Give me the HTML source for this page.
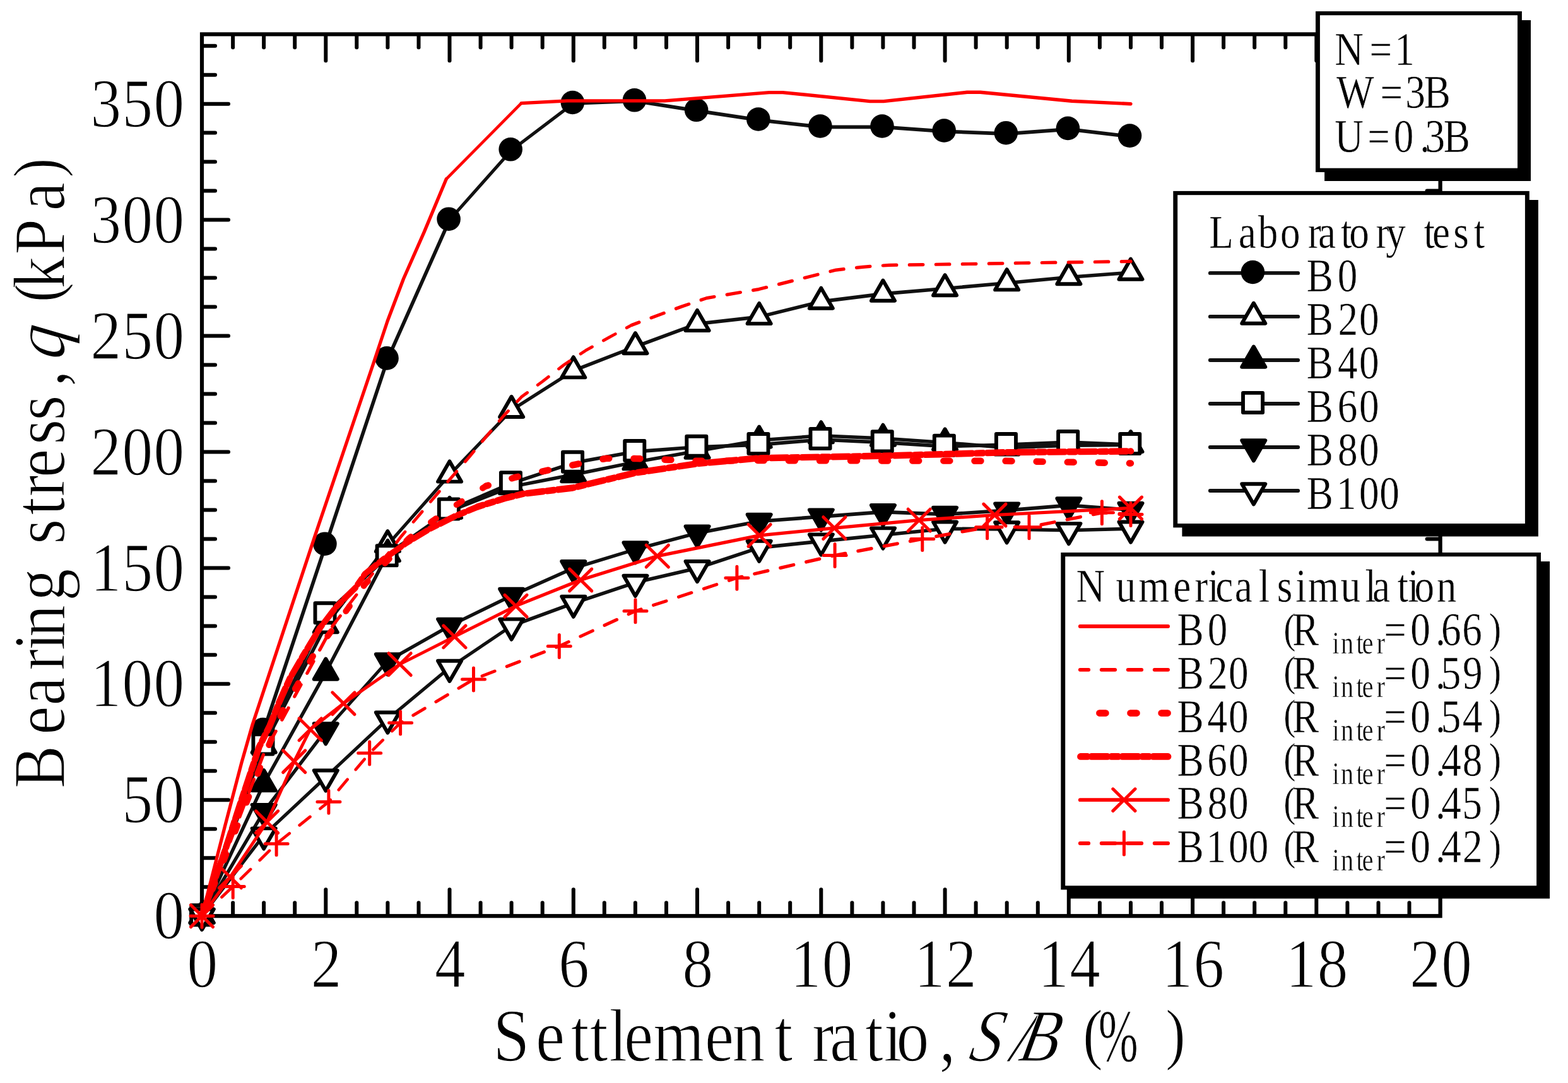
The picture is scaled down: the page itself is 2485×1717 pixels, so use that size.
<!DOCTYPE html>
<html lang="en">
<head>
<meta charset="utf-8">
<title>Bearing stress vs settlement ratio</title>
<style>
html,body{margin:0;padding:0;background:#fff;}
body{width:2485px;height:1717px;overflow:hidden;}
svg{display:block;}
text{font-family:"Liberation Serif","DejaVu Serif",serif;}
</style>
</head>
<body>
<svg width="2485" height="1717" viewBox="0 0 2485 1717">
<rect x="0" y="0" width="2485" height="1717" fill="#fff"/>
<g id="axes">
<rect x="320" y="54.3" width="1962.6" height="1397.9" fill="none" stroke="#000" stroke-width="6.2"/>
<line x1="369.1" y1="1451.2" x2="369.1" y2="1431.2" stroke="#000" stroke-width="6" stroke-linecap="round"/>
<line x1="369.1" y1="55.3" x2="369.1" y2="75.3" stroke="#000" stroke-width="6" stroke-linecap="round"/>
<line x1="418.1" y1="1451.2" x2="418.1" y2="1431.2" stroke="#000" stroke-width="6" stroke-linecap="round"/>
<line x1="418.1" y1="55.3" x2="418.1" y2="75.3" stroke="#000" stroke-width="6" stroke-linecap="round"/>
<line x1="467.2" y1="1451.2" x2="467.2" y2="1431.2" stroke="#000" stroke-width="6" stroke-linecap="round"/>
<line x1="467.2" y1="55.3" x2="467.2" y2="75.3" stroke="#000" stroke-width="6" stroke-linecap="round"/>
<line x1="516.3" y1="1451.2" x2="516.3" y2="1410.2" stroke="#000" stroke-width="6" stroke-linecap="round"/>
<line x1="516.3" y1="55.3" x2="516.3" y2="96.3" stroke="#000" stroke-width="6" stroke-linecap="round"/>
<line x1="565.3" y1="1451.2" x2="565.3" y2="1431.2" stroke="#000" stroke-width="6" stroke-linecap="round"/>
<line x1="565.3" y1="55.3" x2="565.3" y2="75.3" stroke="#000" stroke-width="6" stroke-linecap="round"/>
<line x1="614.4" y1="1451.2" x2="614.4" y2="1431.2" stroke="#000" stroke-width="6" stroke-linecap="round"/>
<line x1="614.4" y1="55.3" x2="614.4" y2="75.3" stroke="#000" stroke-width="6" stroke-linecap="round"/>
<line x1="663.5" y1="1451.2" x2="663.5" y2="1431.2" stroke="#000" stroke-width="6" stroke-linecap="round"/>
<line x1="663.5" y1="55.3" x2="663.5" y2="75.3" stroke="#000" stroke-width="6" stroke-linecap="round"/>
<line x1="712.5" y1="1451.2" x2="712.5" y2="1410.2" stroke="#000" stroke-width="6" stroke-linecap="round"/>
<line x1="712.5" y1="55.3" x2="712.5" y2="96.3" stroke="#000" stroke-width="6" stroke-linecap="round"/>
<line x1="761.6" y1="1451.2" x2="761.6" y2="1431.2" stroke="#000" stroke-width="6" stroke-linecap="round"/>
<line x1="761.6" y1="55.3" x2="761.6" y2="75.3" stroke="#000" stroke-width="6" stroke-linecap="round"/>
<line x1="810.6" y1="1451.2" x2="810.6" y2="1431.2" stroke="#000" stroke-width="6" stroke-linecap="round"/>
<line x1="810.6" y1="55.3" x2="810.6" y2="75.3" stroke="#000" stroke-width="6" stroke-linecap="round"/>
<line x1="859.7" y1="1451.2" x2="859.7" y2="1431.2" stroke="#000" stroke-width="6" stroke-linecap="round"/>
<line x1="859.7" y1="55.3" x2="859.7" y2="75.3" stroke="#000" stroke-width="6" stroke-linecap="round"/>
<line x1="908.8" y1="1451.2" x2="908.8" y2="1410.2" stroke="#000" stroke-width="6" stroke-linecap="round"/>
<line x1="908.8" y1="55.3" x2="908.8" y2="96.3" stroke="#000" stroke-width="6" stroke-linecap="round"/>
<line x1="957.8" y1="1451.2" x2="957.8" y2="1431.2" stroke="#000" stroke-width="6" stroke-linecap="round"/>
<line x1="957.8" y1="55.3" x2="957.8" y2="75.3" stroke="#000" stroke-width="6" stroke-linecap="round"/>
<line x1="1006.9" y1="1451.2" x2="1006.9" y2="1431.2" stroke="#000" stroke-width="6" stroke-linecap="round"/>
<line x1="1006.9" y1="55.3" x2="1006.9" y2="75.3" stroke="#000" stroke-width="6" stroke-linecap="round"/>
<line x1="1056" y1="1451.2" x2="1056" y2="1431.2" stroke="#000" stroke-width="6" stroke-linecap="round"/>
<line x1="1056" y1="55.3" x2="1056" y2="75.3" stroke="#000" stroke-width="6" stroke-linecap="round"/>
<line x1="1105" y1="1451.2" x2="1105" y2="1410.2" stroke="#000" stroke-width="6" stroke-linecap="round"/>
<line x1="1105" y1="55.3" x2="1105" y2="96.3" stroke="#000" stroke-width="6" stroke-linecap="round"/>
<line x1="1154.1" y1="1451.2" x2="1154.1" y2="1431.2" stroke="#000" stroke-width="6" stroke-linecap="round"/>
<line x1="1154.1" y1="55.3" x2="1154.1" y2="75.3" stroke="#000" stroke-width="6" stroke-linecap="round"/>
<line x1="1203.2" y1="1451.2" x2="1203.2" y2="1431.2" stroke="#000" stroke-width="6" stroke-linecap="round"/>
<line x1="1203.2" y1="55.3" x2="1203.2" y2="75.3" stroke="#000" stroke-width="6" stroke-linecap="round"/>
<line x1="1252.2" y1="1451.2" x2="1252.2" y2="1431.2" stroke="#000" stroke-width="6" stroke-linecap="round"/>
<line x1="1252.2" y1="55.3" x2="1252.2" y2="75.3" stroke="#000" stroke-width="6" stroke-linecap="round"/>
<line x1="1301.3" y1="1451.2" x2="1301.3" y2="1410.2" stroke="#000" stroke-width="6" stroke-linecap="round"/>
<line x1="1301.3" y1="55.3" x2="1301.3" y2="96.3" stroke="#000" stroke-width="6" stroke-linecap="round"/>
<line x1="1350.4" y1="1451.2" x2="1350.4" y2="1431.2" stroke="#000" stroke-width="6" stroke-linecap="round"/>
<line x1="1350.4" y1="55.3" x2="1350.4" y2="75.3" stroke="#000" stroke-width="6" stroke-linecap="round"/>
<line x1="1399.4" y1="1451.2" x2="1399.4" y2="1431.2" stroke="#000" stroke-width="6" stroke-linecap="round"/>
<line x1="1399.4" y1="55.3" x2="1399.4" y2="75.3" stroke="#000" stroke-width="6" stroke-linecap="round"/>
<line x1="1448.5" y1="1451.2" x2="1448.5" y2="1431.2" stroke="#000" stroke-width="6" stroke-linecap="round"/>
<line x1="1448.5" y1="55.3" x2="1448.5" y2="75.3" stroke="#000" stroke-width="6" stroke-linecap="round"/>
<line x1="1497.6" y1="1451.2" x2="1497.6" y2="1410.2" stroke="#000" stroke-width="6" stroke-linecap="round"/>
<line x1="1497.6" y1="55.3" x2="1497.6" y2="96.3" stroke="#000" stroke-width="6" stroke-linecap="round"/>
<line x1="1546.6" y1="1451.2" x2="1546.6" y2="1431.2" stroke="#000" stroke-width="6" stroke-linecap="round"/>
<line x1="1546.6" y1="55.3" x2="1546.6" y2="75.3" stroke="#000" stroke-width="6" stroke-linecap="round"/>
<line x1="1595.7" y1="1451.2" x2="1595.7" y2="1431.2" stroke="#000" stroke-width="6" stroke-linecap="round"/>
<line x1="1595.7" y1="55.3" x2="1595.7" y2="75.3" stroke="#000" stroke-width="6" stroke-linecap="round"/>
<line x1="1644.8" y1="1451.2" x2="1644.8" y2="1431.2" stroke="#000" stroke-width="6" stroke-linecap="round"/>
<line x1="1644.8" y1="55.3" x2="1644.8" y2="75.3" stroke="#000" stroke-width="6" stroke-linecap="round"/>
<line x1="1693.8" y1="1451.2" x2="1693.8" y2="1410.2" stroke="#000" stroke-width="6" stroke-linecap="round"/>
<line x1="1693.8" y1="55.3" x2="1693.8" y2="96.3" stroke="#000" stroke-width="6" stroke-linecap="round"/>
<line x1="1742.9" y1="1451.2" x2="1742.9" y2="1431.2" stroke="#000" stroke-width="6" stroke-linecap="round"/>
<line x1="1742.9" y1="55.3" x2="1742.9" y2="75.3" stroke="#000" stroke-width="6" stroke-linecap="round"/>
<line x1="1792" y1="1451.2" x2="1792" y2="1431.2" stroke="#000" stroke-width="6" stroke-linecap="round"/>
<line x1="1792" y1="55.3" x2="1792" y2="75.3" stroke="#000" stroke-width="6" stroke-linecap="round"/>
<line x1="1841" y1="1451.2" x2="1841" y2="1431.2" stroke="#000" stroke-width="6" stroke-linecap="round"/>
<line x1="1841" y1="55.3" x2="1841" y2="75.3" stroke="#000" stroke-width="6" stroke-linecap="round"/>
<line x1="1890.1" y1="1451.2" x2="1890.1" y2="1410.2" stroke="#000" stroke-width="6" stroke-linecap="round"/>
<line x1="1890.1" y1="55.3" x2="1890.1" y2="96.3" stroke="#000" stroke-width="6" stroke-linecap="round"/>
<line x1="1939.1" y1="1451.2" x2="1939.1" y2="1431.2" stroke="#000" stroke-width="6" stroke-linecap="round"/>
<line x1="1939.1" y1="55.3" x2="1939.1" y2="75.3" stroke="#000" stroke-width="6" stroke-linecap="round"/>
<line x1="1988.2" y1="1451.2" x2="1988.2" y2="1431.2" stroke="#000" stroke-width="6" stroke-linecap="round"/>
<line x1="1988.2" y1="55.3" x2="1988.2" y2="75.3" stroke="#000" stroke-width="6" stroke-linecap="round"/>
<line x1="2037.3" y1="1451.2" x2="2037.3" y2="1431.2" stroke="#000" stroke-width="6" stroke-linecap="round"/>
<line x1="2037.3" y1="55.3" x2="2037.3" y2="75.3" stroke="#000" stroke-width="6" stroke-linecap="round"/>
<line x1="2086.3" y1="1451.2" x2="2086.3" y2="1410.2" stroke="#000" stroke-width="6" stroke-linecap="round"/>
<line x1="2086.3" y1="55.3" x2="2086.3" y2="96.3" stroke="#000" stroke-width="6" stroke-linecap="round"/>
<line x1="2135.4" y1="1451.2" x2="2135.4" y2="1431.2" stroke="#000" stroke-width="6" stroke-linecap="round"/>
<line x1="2135.4" y1="55.3" x2="2135.4" y2="75.3" stroke="#000" stroke-width="6" stroke-linecap="round"/>
<line x1="2184.5" y1="1451.2" x2="2184.5" y2="1431.2" stroke="#000" stroke-width="6" stroke-linecap="round"/>
<line x1="2184.5" y1="55.3" x2="2184.5" y2="75.3" stroke="#000" stroke-width="6" stroke-linecap="round"/>
<line x1="2233.5" y1="1451.2" x2="2233.5" y2="1431.2" stroke="#000" stroke-width="6" stroke-linecap="round"/>
<line x1="2233.5" y1="55.3" x2="2233.5" y2="75.3" stroke="#000" stroke-width="6" stroke-linecap="round"/>
<line x1="321" y1="1406.2" x2="341" y2="1406.2" stroke="#000" stroke-width="6" stroke-linecap="round"/>
<line x1="2281.6" y1="1406.2" x2="2261.6" y2="1406.2" stroke="#000" stroke-width="6" stroke-linecap="round"/>
<line x1="321" y1="1360.2" x2="341" y2="1360.2" stroke="#000" stroke-width="6" stroke-linecap="round"/>
<line x1="2281.6" y1="1360.2" x2="2261.6" y2="1360.2" stroke="#000" stroke-width="6" stroke-linecap="round"/>
<line x1="321" y1="1314.2" x2="341" y2="1314.2" stroke="#000" stroke-width="6" stroke-linecap="round"/>
<line x1="2281.6" y1="1314.2" x2="2261.6" y2="1314.2" stroke="#000" stroke-width="6" stroke-linecap="round"/>
<line x1="321" y1="1268.3" x2="362" y2="1268.3" stroke="#000" stroke-width="6" stroke-linecap="round"/>
<line x1="2281.6" y1="1268.3" x2="2240.6" y2="1268.3" stroke="#000" stroke-width="6" stroke-linecap="round"/>
<line x1="321" y1="1222.3" x2="341" y2="1222.3" stroke="#000" stroke-width="6" stroke-linecap="round"/>
<line x1="2281.6" y1="1222.3" x2="2261.6" y2="1222.3" stroke="#000" stroke-width="6" stroke-linecap="round"/>
<line x1="321" y1="1176.3" x2="341" y2="1176.3" stroke="#000" stroke-width="6" stroke-linecap="round"/>
<line x1="2281.6" y1="1176.3" x2="2261.6" y2="1176.3" stroke="#000" stroke-width="6" stroke-linecap="round"/>
<line x1="321" y1="1130.3" x2="341" y2="1130.3" stroke="#000" stroke-width="6" stroke-linecap="round"/>
<line x1="2281.6" y1="1130.3" x2="2261.6" y2="1130.3" stroke="#000" stroke-width="6" stroke-linecap="round"/>
<line x1="321" y1="1084.3" x2="362" y2="1084.3" stroke="#000" stroke-width="6" stroke-linecap="round"/>
<line x1="2281.6" y1="1084.3" x2="2240.6" y2="1084.3" stroke="#000" stroke-width="6" stroke-linecap="round"/>
<line x1="321" y1="1038.3" x2="341" y2="1038.3" stroke="#000" stroke-width="6" stroke-linecap="round"/>
<line x1="2281.6" y1="1038.3" x2="2261.6" y2="1038.3" stroke="#000" stroke-width="6" stroke-linecap="round"/>
<line x1="321" y1="992.4" x2="341" y2="992.4" stroke="#000" stroke-width="6" stroke-linecap="round"/>
<line x1="2281.6" y1="992.4" x2="2261.6" y2="992.4" stroke="#000" stroke-width="6" stroke-linecap="round"/>
<line x1="321" y1="946.4" x2="341" y2="946.4" stroke="#000" stroke-width="6" stroke-linecap="round"/>
<line x1="2281.6" y1="946.4" x2="2261.6" y2="946.4" stroke="#000" stroke-width="6" stroke-linecap="round"/>
<line x1="321" y1="900.4" x2="362" y2="900.4" stroke="#000" stroke-width="6" stroke-linecap="round"/>
<line x1="2281.6" y1="900.4" x2="2240.6" y2="900.4" stroke="#000" stroke-width="6" stroke-linecap="round"/>
<line x1="321" y1="854.4" x2="341" y2="854.4" stroke="#000" stroke-width="6" stroke-linecap="round"/>
<line x1="2281.6" y1="854.4" x2="2261.6" y2="854.4" stroke="#000" stroke-width="6" stroke-linecap="round"/>
<line x1="321" y1="808.4" x2="341" y2="808.4" stroke="#000" stroke-width="6" stroke-linecap="round"/>
<line x1="2281.6" y1="808.4" x2="2261.6" y2="808.4" stroke="#000" stroke-width="6" stroke-linecap="round"/>
<line x1="321" y1="762.4" x2="341" y2="762.4" stroke="#000" stroke-width="6" stroke-linecap="round"/>
<line x1="2281.6" y1="762.4" x2="2261.6" y2="762.4" stroke="#000" stroke-width="6" stroke-linecap="round"/>
<line x1="321" y1="716.5" x2="362" y2="716.5" stroke="#000" stroke-width="6" stroke-linecap="round"/>
<line x1="2281.6" y1="716.5" x2="2240.6" y2="716.5" stroke="#000" stroke-width="6" stroke-linecap="round"/>
<line x1="321" y1="670.5" x2="341" y2="670.5" stroke="#000" stroke-width="6" stroke-linecap="round"/>
<line x1="2281.6" y1="670.5" x2="2261.6" y2="670.5" stroke="#000" stroke-width="6" stroke-linecap="round"/>
<line x1="321" y1="624.5" x2="341" y2="624.5" stroke="#000" stroke-width="6" stroke-linecap="round"/>
<line x1="2281.6" y1="624.5" x2="2261.6" y2="624.5" stroke="#000" stroke-width="6" stroke-linecap="round"/>
<line x1="321" y1="578.5" x2="341" y2="578.5" stroke="#000" stroke-width="6" stroke-linecap="round"/>
<line x1="2281.6" y1="578.5" x2="2261.6" y2="578.5" stroke="#000" stroke-width="6" stroke-linecap="round"/>
<line x1="321" y1="532.5" x2="362" y2="532.5" stroke="#000" stroke-width="6" stroke-linecap="round"/>
<line x1="2281.6" y1="532.5" x2="2240.6" y2="532.5" stroke="#000" stroke-width="6" stroke-linecap="round"/>
<line x1="321" y1="486.5" x2="341" y2="486.5" stroke="#000" stroke-width="6" stroke-linecap="round"/>
<line x1="2281.6" y1="486.5" x2="2261.6" y2="486.5" stroke="#000" stroke-width="6" stroke-linecap="round"/>
<line x1="321" y1="440.6" x2="341" y2="440.6" stroke="#000" stroke-width="6" stroke-linecap="round"/>
<line x1="2281.6" y1="440.6" x2="2261.6" y2="440.6" stroke="#000" stroke-width="6" stroke-linecap="round"/>
<line x1="321" y1="394.6" x2="341" y2="394.6" stroke="#000" stroke-width="6" stroke-linecap="round"/>
<line x1="2281.6" y1="394.6" x2="2261.6" y2="394.6" stroke="#000" stroke-width="6" stroke-linecap="round"/>
<line x1="321" y1="348.6" x2="362" y2="348.6" stroke="#000" stroke-width="6" stroke-linecap="round"/>
<line x1="2281.6" y1="348.6" x2="2240.6" y2="348.6" stroke="#000" stroke-width="6" stroke-linecap="round"/>
<line x1="321" y1="302.6" x2="341" y2="302.6" stroke="#000" stroke-width="6" stroke-linecap="round"/>
<line x1="2281.6" y1="302.6" x2="2261.6" y2="302.6" stroke="#000" stroke-width="6" stroke-linecap="round"/>
<line x1="321" y1="256.6" x2="341" y2="256.6" stroke="#000" stroke-width="6" stroke-linecap="round"/>
<line x1="2281.6" y1="256.6" x2="2261.6" y2="256.6" stroke="#000" stroke-width="6" stroke-linecap="round"/>
<line x1="321" y1="210.6" x2="341" y2="210.6" stroke="#000" stroke-width="6" stroke-linecap="round"/>
<line x1="2281.6" y1="210.6" x2="2261.6" y2="210.6" stroke="#000" stroke-width="6" stroke-linecap="round"/>
<line x1="321" y1="164.7" x2="362" y2="164.7" stroke="#000" stroke-width="6" stroke-linecap="round"/>
<line x1="2281.6" y1="164.7" x2="2240.6" y2="164.7" stroke="#000" stroke-width="6" stroke-linecap="round"/>
<line x1="321" y1="118.7" x2="341" y2="118.7" stroke="#000" stroke-width="6" stroke-linecap="round"/>
<line x1="2281.6" y1="118.7" x2="2261.6" y2="118.7" stroke="#000" stroke-width="6" stroke-linecap="round"/>
<line x1="321" y1="72.7" x2="341" y2="72.7" stroke="#000" stroke-width="6" stroke-linecap="round"/>
<line x1="2281.6" y1="72.7" x2="2261.6" y2="72.7" stroke="#000" stroke-width="6" stroke-linecap="round"/>
</g>
<g id="ticklabels">
<text transform="scale(0.88,1)" x="276.7" y="1488.4" font-size="110.4" fill="#000" stroke="#fff" stroke-width="1.4">0</text>
<text transform="scale(0.88,1)" x="219.9 276.7" y="1304.5" font-size="110.4" fill="#000" stroke="#fff" stroke-width="1.4">50</text>
<text transform="scale(0.88,1)" x="163.1 219.9 276.7" y="1120.5" font-size="110.4" fill="#000" stroke="#fff" stroke-width="1.4">100</text>
<text transform="scale(0.88,1)" x="163.1 219.9 276.7" y="936.6" font-size="110.4" fill="#000" stroke="#fff" stroke-width="1.4">150</text>
<text transform="scale(0.88,1)" x="163.1 219.9 276.7" y="752.7" font-size="110.4" fill="#000" stroke="#fff" stroke-width="1.4">200</text>
<text transform="scale(0.88,1)" x="163.1 219.9 276.7" y="568.7" font-size="110.4" fill="#000" stroke="#fff" stroke-width="1.4">250</text>
<text transform="scale(0.88,1)" x="163.1 219.9 276.7" y="384.8" font-size="110.4" fill="#000" stroke="#fff" stroke-width="1.4">300</text>
<text transform="scale(0.88,1)" x="163.1 219.9 276.7" y="200.9" font-size="110.4" fill="#000" stroke="#fff" stroke-width="1.4">350</text>
<text transform="scale(0.88,1)" x="336.9" y="1564.8" font-size="110.4" fill="#000" stroke="#fff" stroke-width="1.4">0</text>
<text transform="scale(0.88,1)" x="560" y="1564.8" font-size="110.4" fill="#000" stroke="#fff" stroke-width="1.4">2</text>
<text transform="scale(0.88,1)" x="783" y="1564.8" font-size="110.4" fill="#000" stroke="#fff" stroke-width="1.4">4</text>
<text transform="scale(0.88,1)" x="1006" y="1564.8" font-size="110.4" fill="#000" stroke="#fff" stroke-width="1.4">6</text>
<text transform="scale(0.88,1)" x="1229" y="1564.8" font-size="110.4" fill="#000" stroke="#fff" stroke-width="1.4">8</text>
<text transform="scale(0.88,1)" x="1423.6 1480.5" y="1564.8" font-size="110.4" fill="#000" stroke="#fff" stroke-width="1.4">10</text>
<text transform="scale(0.88,1)" x="1646.7 1703.5" y="1564.8" font-size="110.4" fill="#000" stroke="#fff" stroke-width="1.4">12</text>
<text transform="scale(0.88,1)" x="1869.7 1926.5" y="1564.8" font-size="110.4" fill="#000" stroke="#fff" stroke-width="1.4">14</text>
<text transform="scale(0.88,1)" x="2092.7 2149.5" y="1564.8" font-size="110.4" fill="#000" stroke="#fff" stroke-width="1.4">16</text>
<text transform="scale(0.88,1)" x="2315.7 2372.5" y="1564.8" font-size="110.4" fill="#000" stroke="#fff" stroke-width="1.4">18</text>
<text transform="scale(0.88,1)" x="2538.8 2595.6" y="1564.8" font-size="110.4" fill="#000" stroke="#fff" stroke-width="1.4">20</text>
</g>
<g id="series">
<polyline points="320,1452.2 418.1,1157.9 516.3,863.6 614.4,569.3 712.5,348.6" fill="none" stroke="#111" stroke-width="5.7" stroke-linecap="round" stroke-linejoin="round"/>
<polyline points="712.5,348.6 810.6,238.2 908.8,163.9" fill="none" stroke="#111" stroke-width="5.1" stroke-linecap="round" stroke-linejoin="round"/>
<polyline points="908.8,163.9 1006.9,160.2 1105,175.7 1203.2,190.4 1301.3,201.4 1399.4,201.4 1497.6,208.4 1595.7,212.1 1693.8,204.8 1792,216.5" fill="none" stroke="#111" stroke-width="5.8" stroke-linecap="round" stroke-linejoin="round"/>
<circle cx="318.6" cy="1450.8" r="18.8" fill="#000"/>
<circle cx="416.7" cy="1156.5" r="18.8" fill="#000"/>
<circle cx="514.9" cy="862.2" r="18.8" fill="#000"/>
<circle cx="613" cy="567.9" r="18.8" fill="#000"/>
<circle cx="711.1" cy="347.2" r="18.8" fill="#000"/>
<circle cx="809.2" cy="236.8" r="18.8" fill="#000"/>
<circle cx="907.4" cy="162.5" r="18.8" fill="#000"/>
<circle cx="1005.5" cy="158.8" r="18.8" fill="#000"/>
<circle cx="1103.6" cy="174.3" r="18.8" fill="#000"/>
<circle cx="1201.8" cy="189" r="18.8" fill="#000"/>
<circle cx="1299.9" cy="200" r="18.8" fill="#000"/>
<circle cx="1398" cy="200" r="18.8" fill="#000"/>
<circle cx="1496.2" cy="207" r="18.8" fill="#000"/>
<circle cx="1594.3" cy="210.7" r="18.8" fill="#000"/>
<circle cx="1692.4" cy="203.4" r="18.8" fill="#000"/>
<circle cx="1790.5" cy="215.1" r="18.8" fill="#000"/>
<polyline points="320,1452.2 418.1,1182.2 516.3,991.6" fill="none" stroke="#111" stroke-width="5.6" stroke-linecap="round" stroke-linejoin="round"/>
<polyline points="516.3,991.6 614.4,863.6 712.5,752.9 810.6,650.2 908.8,587.7" fill="none" stroke="#111" stroke-width="5.2" stroke-linecap="round" stroke-linejoin="round"/>
<polyline points="908.8,587.7 1006.9,549.5 1105,513.4 1203.2,502.4 1301.3,478.1 1399.4,465.9 1497.6,457.5 1595.7,448.7 1693.8,439.5 1792,432.1" fill="none" stroke="#111" stroke-width="5.6" stroke-linecap="round" stroke-linejoin="round"/>
<polygon points="320,1430.7 338.6,1462.9 301.4,1462.9" fill="#fff" stroke="#000" stroke-width="5.9" stroke-linejoin="round"/>
<polygon points="418.1,1160.7 436.7,1192.9 399.6,1192.9" fill="#fff" stroke="#000" stroke-width="5.9" stroke-linejoin="round"/>
<polygon points="516.3,970.2 534.8,1002.4 497.7,1002.4" fill="#fff" stroke="#000" stroke-width="5.9" stroke-linejoin="round"/>
<polygon points="614.4,842.1 632.9,874.3 595.8,874.3" fill="#fff" stroke="#000" stroke-width="5.9" stroke-linejoin="round"/>
<polygon points="712.5,731.4 731.1,763.6 694,763.6" fill="#fff" stroke="#000" stroke-width="5.9" stroke-linejoin="round"/>
<polygon points="810.6,628.8 829.2,661 792.1,661" fill="#fff" stroke="#000" stroke-width="5.9" stroke-linejoin="round"/>
<polygon points="908.8,566.2 927.3,598.4 890.2,598.4" fill="#fff" stroke="#000" stroke-width="5.9" stroke-linejoin="round"/>
<polygon points="1006.9,528 1025.5,560.2 988.4,560.2" fill="#fff" stroke="#000" stroke-width="5.9" stroke-linejoin="round"/>
<polygon points="1105,491.9 1123.6,524.1 1086.5,524.1" fill="#fff" stroke="#000" stroke-width="5.9" stroke-linejoin="round"/>
<polygon points="1203.2,480.9 1221.7,513.1 1184.6,513.1" fill="#fff" stroke="#000" stroke-width="5.9" stroke-linejoin="round"/>
<polygon points="1301.3,456.6 1319.8,488.8 1282.8,488.8" fill="#fff" stroke="#000" stroke-width="5.9" stroke-linejoin="round"/>
<polygon points="1399.4,444.5 1418,476.7 1380.9,476.7" fill="#fff" stroke="#000" stroke-width="5.9" stroke-linejoin="round"/>
<polygon points="1497.6,436 1516.1,468.2 1479,468.2" fill="#fff" stroke="#000" stroke-width="5.9" stroke-linejoin="round"/>
<polygon points="1595.7,427.2 1614.2,459.4 1577.1,459.4" fill="#fff" stroke="#000" stroke-width="5.9" stroke-linejoin="round"/>
<polygon points="1693.8,418 1712.4,450.2 1675.3,450.2" fill="#fff" stroke="#000" stroke-width="5.9" stroke-linejoin="round"/>
<polygon points="1792,410.6 1810.5,442.8 1773.4,442.8" fill="#fff" stroke="#000" stroke-width="5.9" stroke-linejoin="round"/>
<polyline points="320,1452.2 418.1,1242.5 516.3,1065.9 614.4,878.3 712.5,810.3 810.6,771.6 908.8,752.5 1006.9,732.6 1105,715 1203.2,698.1 1301.3,690.7 1399.4,695.1 1497.6,701.7 1595.7,709.8 1693.8,706.2 1792,705.4" fill="none" stroke="#111" stroke-width="5.5" stroke-linecap="round" stroke-linejoin="round"/>
<polygon points="320,1430.7 338.6,1462.9 301.4,1462.9" fill="#000" stroke="#000" stroke-width="5.9" stroke-linejoin="round"/>
<polygon points="418.1,1221 436.7,1253.2 399.6,1253.2" fill="#000" stroke="#000" stroke-width="5.9" stroke-linejoin="round"/>
<polygon points="516.3,1044.5 534.8,1076.7 497.7,1076.7" fill="#000" stroke="#000" stroke-width="5.9" stroke-linejoin="round"/>
<polygon points="614.4,856.9 632.9,889.1 595.8,889.1" fill="#000" stroke="#000" stroke-width="5.9" stroke-linejoin="round"/>
<polygon points="712.5,788.8 731.1,821 694,821" fill="#000" stroke="#000" stroke-width="5.9" stroke-linejoin="round"/>
<polygon points="810.6,750.2 829.2,782.4 792.1,782.4" fill="#000" stroke="#000" stroke-width="5.9" stroke-linejoin="round"/>
<polygon points="908.8,731 927.3,763.2 890.2,763.2" fill="#000" stroke="#000" stroke-width="5.9" stroke-linejoin="round"/>
<polygon points="1006.9,711.2 1025.5,743.4 988.4,743.4" fill="#000" stroke="#000" stroke-width="5.9" stroke-linejoin="round"/>
<polygon points="1105,693.5 1123.6,725.7 1086.5,725.7" fill="#000" stroke="#000" stroke-width="5.9" stroke-linejoin="round"/>
<polygon points="1203.2,676.6 1221.7,708.8 1184.6,708.8" fill="#000" stroke="#000" stroke-width="5.9" stroke-linejoin="round"/>
<polygon points="1301.3,669.2 1319.8,701.4 1282.8,701.4" fill="#000" stroke="#000" stroke-width="5.9" stroke-linejoin="round"/>
<polygon points="1399.4,673.7 1418,705.9 1380.9,705.9" fill="#000" stroke="#000" stroke-width="5.9" stroke-linejoin="round"/>
<polygon points="1497.6,680.3 1516.1,712.5 1479,712.5" fill="#000" stroke="#000" stroke-width="5.9" stroke-linejoin="round"/>
<polygon points="1595.7,688.4 1614.2,720.6 1577.1,720.6" fill="#000" stroke="#000" stroke-width="5.9" stroke-linejoin="round"/>
<polygon points="1693.8,684.7 1712.4,716.9 1675.3,716.9" fill="#000" stroke="#000" stroke-width="5.9" stroke-linejoin="round"/>
<polygon points="1792,684 1810.5,716.2 1773.4,716.2" fill="#000" stroke="#000" stroke-width="5.9" stroke-linejoin="round"/>
<polyline points="320,1452.2 418.1,1181.4 516.3,973.2" fill="none" stroke="#111" stroke-width="5.6" stroke-linecap="round" stroke-linejoin="round"/>
<polyline points="516.3,973.2 614.4,882.4 712.5,808.4" fill="none" stroke="#111" stroke-width="5" stroke-linecap="round" stroke-linejoin="round"/>
<polyline points="712.5,808.4 810.6,766.1 908.8,733.8 1006.9,716.1 1105,708.7 1203.2,705.1 1301.3,697 1399.4,701.4 1497.6,707.6 1595.7,705.1 1693.8,701 1792,705.1" fill="none" stroke="#111" stroke-width="5.6" stroke-linecap="round" stroke-linejoin="round"/>
<rect x="303.2" y="1435.2" width="31.1" height="31.1" fill="#fff" stroke="#000" stroke-width="5.9" stroke-linejoin="round"/>
<rect x="401.4" y="1164.4" width="31.1" height="31.1" fill="#fff" stroke="#000" stroke-width="5.9" stroke-linejoin="round"/>
<rect x="499.5" y="956.2" width="31.1" height="31.1" fill="#fff" stroke="#000" stroke-width="5.9" stroke-linejoin="round"/>
<rect x="597.6" y="865.3" width="31.1" height="31.1" fill="#fff" stroke="#000" stroke-width="5.9" stroke-linejoin="round"/>
<rect x="695.8" y="791.4" width="31.1" height="31.1" fill="#fff" stroke="#000" stroke-width="5.9" stroke-linejoin="round"/>
<rect x="793.9" y="749.1" width="31.1" height="31.1" fill="#fff" stroke="#000" stroke-width="5.9" stroke-linejoin="round"/>
<rect x="892" y="716.7" width="31.1" height="31.1" fill="#fff" stroke="#000" stroke-width="5.9" stroke-linejoin="round"/>
<rect x="990.2" y="699" width="31.1" height="31.1" fill="#fff" stroke="#000" stroke-width="5.9" stroke-linejoin="round"/>
<rect x="1088.3" y="691.7" width="31.1" height="31.1" fill="#fff" stroke="#000" stroke-width="5.9" stroke-linejoin="round"/>
<rect x="1186.4" y="688" width="31.1" height="31.1" fill="#fff" stroke="#000" stroke-width="5.9" stroke-linejoin="round"/>
<rect x="1284.5" y="679.9" width="31.1" height="31.1" fill="#fff" stroke="#000" stroke-width="5.9" stroke-linejoin="round"/>
<rect x="1382.7" y="684.3" width="31.1" height="31.1" fill="#fff" stroke="#000" stroke-width="5.9" stroke-linejoin="round"/>
<rect x="1480.8" y="690.6" width="31.1" height="31.1" fill="#fff" stroke="#000" stroke-width="5.9" stroke-linejoin="round"/>
<rect x="1578.9" y="688" width="31.1" height="31.1" fill="#fff" stroke="#000" stroke-width="5.9" stroke-linejoin="round"/>
<rect x="1677.1" y="684" width="31.1" height="31.1" fill="#fff" stroke="#000" stroke-width="5.9" stroke-linejoin="round"/>
<rect x="1775.2" y="688" width="31.1" height="31.1" fill="#fff" stroke="#000" stroke-width="5.9" stroke-linejoin="round"/>
<polyline points="320,1452.2 418.1,1286.7 516.3,1157.9" fill="none" stroke="#111" stroke-width="5.4" stroke-linecap="round" stroke-linejoin="round"/>
<polyline points="516.3,1157.9 614.4,1047.9" fill="none" stroke="#111" stroke-width="5.1" stroke-linecap="round" stroke-linejoin="round"/>
<polyline points="614.4,1047.9 712.5,992.4 810.6,944.5 908.8,900.8 1006.9,871 1105,845.2" fill="none" stroke="#111" stroke-width="5.4" stroke-linecap="round" stroke-linejoin="round"/>
<polyline points="1105,845.2 1203.2,826.5 1301.3,819.1 1399.4,811.7 1497.6,815.4 1595.7,809.2 1693.8,801.1 1792,808.4" fill="none" stroke="#111" stroke-width="5.7" stroke-linecap="round" stroke-linejoin="round"/>
<polygon points="320,1473.7 338.6,1441.5 301.4,1441.5" fill="#000" stroke="#000" stroke-width="5.9" stroke-linejoin="round"/>
<polygon points="418.1,1308.1 436.7,1275.9 399.6,1275.9" fill="#000" stroke="#000" stroke-width="5.9" stroke-linejoin="round"/>
<polygon points="516.3,1179.4 534.8,1147.2 497.7,1147.2" fill="#000" stroke="#000" stroke-width="5.9" stroke-linejoin="round"/>
<polygon points="614.4,1069.4 632.9,1037.2 595.8,1037.2" fill="#000" stroke="#000" stroke-width="5.9" stroke-linejoin="round"/>
<polygon points="712.5,1013.8 731.1,981.6 694,981.6" fill="#000" stroke="#000" stroke-width="5.9" stroke-linejoin="round"/>
<polygon points="810.6,966 829.2,933.8 792.1,933.8" fill="#000" stroke="#000" stroke-width="5.9" stroke-linejoin="round"/>
<polygon points="908.8,922.2 927.3,890 890.2,890" fill="#000" stroke="#000" stroke-width="5.9" stroke-linejoin="round"/>
<polygon points="1006.9,892.4 1025.5,860.2 988.4,860.2" fill="#000" stroke="#000" stroke-width="5.9" stroke-linejoin="round"/>
<polygon points="1105,866.7 1123.6,834.5 1086.5,834.5" fill="#000" stroke="#000" stroke-width="5.9" stroke-linejoin="round"/>
<polygon points="1203.2,847.9 1221.7,815.7 1184.6,815.7" fill="#000" stroke="#000" stroke-width="5.9" stroke-linejoin="round"/>
<polygon points="1301.3,840.6 1319.8,808.4 1282.8,808.4" fill="#000" stroke="#000" stroke-width="5.9" stroke-linejoin="round"/>
<polygon points="1399.4,833.2 1418,801 1380.9,801" fill="#000" stroke="#000" stroke-width="5.9" stroke-linejoin="round"/>
<polygon points="1497.6,836.9 1516.1,804.7 1479,804.7" fill="#000" stroke="#000" stroke-width="5.9" stroke-linejoin="round"/>
<polygon points="1595.7,830.6 1614.2,798.4 1577.1,798.4" fill="#000" stroke="#000" stroke-width="5.9" stroke-linejoin="round"/>
<polygon points="1693.8,822.5 1712.4,790.3 1675.3,790.3" fill="#000" stroke="#000" stroke-width="5.9" stroke-linejoin="round"/>
<polygon points="1792,829.9 1810.5,797.7 1773.4,797.7" fill="#000" stroke="#000" stroke-width="5.9" stroke-linejoin="round"/>
<polyline points="320,1452.2 418.1,1324.2 516.3,1232.2 614.4,1140.2 712.5,1058.6 810.6,992.4" fill="none" stroke="#111" stroke-width="5.2" stroke-linecap="round" stroke-linejoin="round"/>
<polyline points="810.6,992.4 908.8,956.3 1006.9,923.6 1105,900.8 1203.2,868.4 1301.3,858.1 1399.4,848.2 1497.6,838.2 1595.7,839 1693.8,840.8 1792,838.2" fill="none" stroke="#111" stroke-width="5.6" stroke-linecap="round" stroke-linejoin="round"/>
<polygon points="320,1473.7 338.6,1441.5 301.4,1441.5" fill="#fff" stroke="#000" stroke-width="5.9" stroke-linejoin="round"/>
<polygon points="418.1,1345.6 436.7,1313.4 399.6,1313.4" fill="#fff" stroke="#000" stroke-width="5.9" stroke-linejoin="round"/>
<polygon points="516.3,1253.7 534.8,1221.5 497.7,1221.5" fill="#fff" stroke="#000" stroke-width="5.9" stroke-linejoin="round"/>
<polygon points="614.4,1161.7 632.9,1129.5 595.8,1129.5" fill="#fff" stroke="#000" stroke-width="5.9" stroke-linejoin="round"/>
<polygon points="712.5,1080 731.1,1047.8 694,1047.8" fill="#fff" stroke="#000" stroke-width="5.9" stroke-linejoin="round"/>
<polygon points="810.6,1013.8 829.2,981.6 792.1,981.6" fill="#fff" stroke="#000" stroke-width="5.9" stroke-linejoin="round"/>
<polygon points="908.8,977.8 927.3,945.6 890.2,945.6" fill="#fff" stroke="#000" stroke-width="5.9" stroke-linejoin="round"/>
<polygon points="1006.9,945 1025.5,912.8 988.4,912.8" fill="#fff" stroke="#000" stroke-width="5.9" stroke-linejoin="round"/>
<polygon points="1105,922.2 1123.6,890 1086.5,890" fill="#fff" stroke="#000" stroke-width="5.9" stroke-linejoin="round"/>
<polygon points="1203.2,889.9 1221.7,857.7 1184.6,857.7" fill="#fff" stroke="#000" stroke-width="5.9" stroke-linejoin="round"/>
<polygon points="1301.3,879.6 1319.8,847.4 1282.8,847.4" fill="#fff" stroke="#000" stroke-width="5.9" stroke-linejoin="round"/>
<polygon points="1399.4,869.6 1418,837.4 1380.9,837.4" fill="#fff" stroke="#000" stroke-width="5.9" stroke-linejoin="round"/>
<polygon points="1497.6,859.7 1516.1,827.5 1479,827.5" fill="#fff" stroke="#000" stroke-width="5.9" stroke-linejoin="round"/>
<polygon points="1595.7,860.4 1614.2,828.2 1577.1,828.2" fill="#fff" stroke="#000" stroke-width="5.9" stroke-linejoin="round"/>
<polygon points="1693.8,862.3 1712.4,830.1 1675.3,830.1" fill="#fff" stroke="#000" stroke-width="5.9" stroke-linejoin="round"/>
<polygon points="1792,859.7 1810.5,827.5 1773.4,827.5" fill="#fff" stroke="#000" stroke-width="5.9" stroke-linejoin="round"/>
<polyline points="320,1452.2 356.3,1310.6 382.8,1209.4 399.7,1150.2 497.9,853.3 590.5,580 614.1,509 639.6,441.7 672.1,368.1 707.3,283.8" fill="none" stroke="#f00" stroke-width="5.3" stroke-linecap="round" stroke-linejoin="round"/>
<polyline points="707.3,283.8 826.2,163.6" fill="none" stroke="#f00" stroke-width="4.6" stroke-linecap="round" stroke-linejoin="round"/>
<polyline points="826.2,163.6 899,159.9 1053.6,159.9 1218.9,146.6 1240.5,146.6 1378.8,160.6 1400.4,160.6 1532.7,146.3 1553.6,146.3 1698.7,160.2 1792,164.7" fill="none" stroke="#f00" stroke-width="5.4" stroke-linecap="round" stroke-linejoin="round"/>
<polyline points="320,1452.2 418.1,1194.7 527.4,992" fill="none" stroke="#f00" stroke-width="5.2" stroke-linecap="round" stroke-linejoin="round" stroke-dasharray="21.5 20.5" stroke-dashoffset="41.8"/>
<polyline points="527.4,992 635.9,850.4 661.3,820.2 688.5,788.2 743.9,724.2 770.3,692.6 797.3,660.2 826.4,629.3 860,604.6 893.7,578.5 928.2,555.7 964.9,535.1 1001.6,515.2" fill="none" stroke="#f00" stroke-width="4.8" stroke-linecap="round" stroke-linejoin="round" stroke-dasharray="21.5 20.5" stroke-dashoffset="1.7"/>
<polyline points="1001.6,515.2 1079.7,486.2 1119.8,472.6 1202.6,458.6 1283.2,438.4 1324.9,428.1 1367,423.3 1409.2,420.3 1534.8,418.5 1618.3,417 1792,414.4" fill="none" stroke="#f00" stroke-width="5.2" stroke-linecap="round" stroke-linejoin="round" stroke-dasharray="21.5 20.5" stroke-dashoffset="9.5"/>
<polyline points="320,1452.2 418.1,1202 448.6,1125.5" fill="none" stroke="#f00" stroke-width="10.2" stroke-linecap="round" stroke-linejoin="round" stroke-dasharray="10 39.1" stroke-dashoffset="3.2"/>
<polyline points="448.6,1125.5 471.1,1086.2 495.5,1040.9" fill="none" stroke="#f00" stroke-width="9.9" stroke-linecap="round" stroke-linejoin="round" stroke-dasharray="10 39.1" stroke-dashoffset="10.5"/>
<polyline points="495.5,1040.9 551.9,964 578.2,926.5 648.1,853.3 685.7,825.7 728.9,796.7 770.3,770.5" fill="none" stroke="#f00" stroke-width="9.6" stroke-linecap="round" stroke-linejoin="round" stroke-dasharray="10 39.1" stroke-dashoffset="9.1"/>
<polyline points="770.3,770.5 817.3,756.6 864.5,746.3 912.7,736.3 960.5,726.8 1009.1,727.1 1059.1,729 1108.2,730.8 1204.2,730.1 1592.7,730.8 1792,734.5" fill="none" stroke="#f00" stroke-width="10.4" stroke-linecap="round" stroke-linejoin="round" stroke-dasharray="10 39.1" stroke-dashoffset="6.3"/>
<polyline points="320,1452.2 356.4,1349.2 380.8,1274.2 410.9,1183.7 427.7,1150.2 442.9,1112.3 459.8,1074.8" fill="none" stroke="#f00" stroke-width="10.3" stroke-linecap="round" stroke-linejoin="round" stroke-dasharray="11.2 6 25.7 6" stroke-dashoffset="0"/>
<polyline points="459.8,1074.8 480.5,1039.1 506.8,996" fill="none" stroke="#f00" stroke-width="9.9" stroke-linecap="round" stroke-linejoin="round" stroke-dasharray="11.2 6 25.7 6" stroke-dashoffset="11.8"/>
<polyline points="506.8,996 533.1,961.8 563.2,932 578.6,909.6 606.8,887.2 644.4,860.7 682,837.9" fill="none" stroke="#f00" stroke-width="9.5" stroke-linecap="round" stroke-linejoin="round" stroke-dasharray="11.2 6 25.7 6" stroke-dashoffset="5.7"/>
<polyline points="682,837.9 719.6,819.1 757.2,803.3" fill="none" stroke="#f00" stroke-width="10" stroke-linecap="round" stroke-linejoin="round" stroke-dasharray="11.2 6 25.7 6" stroke-dashoffset="48.8"/>
<polyline points="757.2,803.3 800,790 830,782.7 907.4,773.5 1005.5,749.9 1103.7,735.2 1201.8,726.4 1299.9,724.6 1397.5,722.7 1496.6,720.1 1593.7,717.2 1792,715.4" fill="none" stroke="#f00" stroke-width="10.4" stroke-linecap="round" stroke-linejoin="round" stroke-dasharray="11.2 6 25.7 6" stroke-dashoffset="33.8"/>
<polyline points="320,1452.2 364.8,1390.4 423.1,1303.2 466.2,1207.2 491.7,1156.4 544.4,1115.2 633.6,1053.1 720.4,1009.3 817.5,960.7" fill="none" stroke="#f00" stroke-width="4.9" stroke-linecap="round" stroke-linejoin="round"/>
<polyline points="817.5,960.7 920.2,919.5 1041.8,881.6 1203.6,848.9 1322.4,837.1 1456.7,824.6 1576.4,816.5 1792,805.5" fill="none" stroke="#f00" stroke-width="5.2" stroke-linecap="round" stroke-linejoin="round"/>
<path d="M302.4 1434.8L337.6 1469.6M302.4 1469.6L337.6 1434.8" stroke="#f00" stroke-width="5" stroke-linecap="round" fill="none"/>
<path d="M347.2 1373L382.4 1407.8M347.2 1407.8L382.4 1373" stroke="#f00" stroke-width="5" stroke-linecap="round" fill="none"/>
<path d="M405.5 1285.8L440.7 1320.6M405.5 1320.6L440.7 1285.8" stroke="#f00" stroke-width="5" stroke-linecap="round" fill="none"/>
<path d="M448.6 1189.8L483.8 1224.6M448.6 1224.6L483.8 1189.8" stroke="#f00" stroke-width="5" stroke-linecap="round" fill="none"/>
<path d="M474.1 1139L509.3 1173.8M474.1 1173.8L509.3 1139" stroke="#f00" stroke-width="5" stroke-linecap="round" fill="none"/>
<path d="M526.8 1097.8L562 1132.6M526.8 1132.6L562 1097.8" stroke="#f00" stroke-width="5" stroke-linecap="round" fill="none"/>
<path d="M616 1035.7L651.2 1070.5M616 1070.5L651.2 1035.7" stroke="#f00" stroke-width="5" stroke-linecap="round" fill="none"/>
<path d="M702.8 991.9L738 1026.7M702.8 1026.7L738 991.9" stroke="#f00" stroke-width="5" stroke-linecap="round" fill="none"/>
<path d="M799.9 943.3L835.1 978.1M799.9 978.1L835.1 943.3" stroke="#f00" stroke-width="5" stroke-linecap="round" fill="none"/>
<path d="M902.6 902.1L937.8 936.9M902.6 936.9L937.8 902.1" stroke="#f00" stroke-width="5" stroke-linecap="round" fill="none"/>
<path d="M1024.2 864.2L1059.4 899M1024.2 899L1059.4 864.2" stroke="#f00" stroke-width="5" stroke-linecap="round" fill="none"/>
<path d="M1186 831.5L1221.2 866.3M1186 866.3L1221.2 831.5" stroke="#f00" stroke-width="5" stroke-linecap="round" fill="none"/>
<path d="M1304.8 819.7L1340 854.5M1304.8 854.5L1340 819.7" stroke="#f00" stroke-width="5" stroke-linecap="round" fill="none"/>
<path d="M1439.1 807.2L1474.3 842M1439.1 842L1474.3 807.2" stroke="#f00" stroke-width="5" stroke-linecap="round" fill="none"/>
<path d="M1558.8 799.1L1594 833.9M1558.8 833.9L1594 799.1" stroke="#f00" stroke-width="5" stroke-linecap="round" fill="none"/>
<path d="M1774.4 788.1L1809.5 822.9M1774.4 822.9L1809.5 788.1" stroke="#f00" stroke-width="5" stroke-linecap="round" fill="none"/>
<polyline points="320,1452.2 369.2,1405.5 438.1,1337.8 520.9,1271.2 585.7,1194 634.6,1146.1" fill="none" stroke="#f00" stroke-width="4.7" stroke-linecap="round" stroke-linejoin="round" stroke-dasharray="21.5 20.5" stroke-dashoffset="40.6"/>
<polyline points="634.6,1146.1 750.5,1077 886.3,1024.4 1007,968.8 1167.9,916.2" fill="none" stroke="#f00" stroke-width="5" stroke-linecap="round" stroke-linejoin="round" stroke-dasharray="21.5 20.5" stroke-dashoffset="18.5"/>
<polyline points="1167.9,916.2 1323.1,880.5 1461.8,854.4 1564.6,835.7 1631,835.7 1746.4,812.8 1792,815.4" fill="none" stroke="#f00" stroke-width="5.3" stroke-linecap="round" stroke-linejoin="round" stroke-dasharray="21.5 20.5" stroke-dashoffset="13.3"/>
<path d="M302 1452.2L338 1452.2M320 1434.2L320 1470.2" stroke="#f00" stroke-width="5" stroke-linecap="round" fill="none"/>
<path d="M351.2 1405.5L387.2 1405.5M369.2 1387.5L369.2 1423.5" stroke="#f00" stroke-width="5" stroke-linecap="round" fill="none"/>
<path d="M420.1 1337.8L456.1 1337.8M438.1 1319.8L438.1 1355.8" stroke="#f00" stroke-width="5" stroke-linecap="round" fill="none"/>
<path d="M502.9 1271.2L538.9 1271.2M520.9 1253.2L520.9 1289.2" stroke="#f00" stroke-width="5" stroke-linecap="round" fill="none"/>
<path d="M567.7 1194L603.7 1194M585.7 1176L585.7 1212" stroke="#f00" stroke-width="5" stroke-linecap="round" fill="none"/>
<path d="M616.6 1146.1L652.6 1146.1M634.6 1128.1L634.6 1164.1" stroke="#f00" stroke-width="5" stroke-linecap="round" fill="none"/>
<path d="M732.5 1077L768.5 1077M750.5 1059L750.5 1095" stroke="#f00" stroke-width="5" stroke-linecap="round" fill="none"/>
<path d="M868.3 1024.4L904.3 1024.4M886.3 1006.4L886.3 1042.4" stroke="#f00" stroke-width="5" stroke-linecap="round" fill="none"/>
<path d="M989 968.8L1025 968.8M1007 950.8L1007 986.8" stroke="#f00" stroke-width="5" stroke-linecap="round" fill="none"/>
<path d="M1149.9 916.2L1185.9 916.2M1167.9 898.2L1167.9 934.2" stroke="#f00" stroke-width="5" stroke-linecap="round" fill="none"/>
<path d="M1305.1 880.5L1341.1 880.5M1323.1 862.5L1323.1 898.5" stroke="#f00" stroke-width="5" stroke-linecap="round" fill="none"/>
<path d="M1443.8 854.4L1479.8 854.4M1461.8 836.4L1461.8 872.4" stroke="#f00" stroke-width="5" stroke-linecap="round" fill="none"/>
<path d="M1546.6 835.7L1582.6 835.7M1564.6 817.7L1564.6 853.7" stroke="#f00" stroke-width="5" stroke-linecap="round" fill="none"/>
<path d="M1613 835.7L1649 835.7M1631 817.7L1631 853.7" stroke="#f00" stroke-width="5" stroke-linecap="round" fill="none"/>
<path d="M1728.4 812.8L1764.4 812.8M1746.4 794.8L1746.4 830.8" stroke="#f00" stroke-width="5" stroke-linecap="round" fill="none"/>
<path d="M1774 815.4L1810 815.4M1792 797.4L1792 833.4" stroke="#f00" stroke-width="5" stroke-linecap="round" fill="none"/>
</g>
<g id="legends">
<rect x="2099.1" y="32" width="326.9" height="255" fill="#000"/>
<rect x="2085" y="17.9" width="326.9" height="255" fill="#000"/>
<rect x="2091.9" y="24.2" width="313.1" height="242.4" fill="#fff"/>
<text transform="scale(0.86,1)" x="2459.5 2523.9 2570.1" y="103" font-size="73.5" fill="#000" stroke="#fff" stroke-width="0.5">N=1</text>
<text transform="scale(0.86,1)" x="2462.7 2532.1 2543.7 2589.7 2624" y="171.4" font-size="73.5" fill="#000" stroke="#fff" stroke-width="0.5">W =3B</text>
<text transform="scale(0.86,1)" x="2459.7 2520.2 2568.2 2616.7 2626.3 2660.1" y="241.2" font-size="73.5" fill="#000" stroke="#fff" stroke-width="0.5">U=0.3B</text>
<rect x="1873.4" y="317" width="564.5" height="533.5" fill="#000"/>
<rect x="1859.3" y="302.9" width="564.5" height="533.5" fill="#000"/>
<rect x="1866.2" y="309.2" width="550.7" height="520.9" fill="#fff"/>
<text transform="scale(0.86,1)" x="2228.2 2282.4 2318.4 2359.2 2410.1 2429.1 2470.9 2486.3 2535.4 2553.9 2590.6 2623.9 2639.6 2678.3 2715.9" y="393.3" font-size="73.5" fill="#000" stroke="#fff" stroke-width="0.5">Laboratory test</text>
<line x1="1917.8" y1="432.9" x2="2057.2" y2="432.9" stroke="#111" stroke-width="5.8" stroke-linecap="round"/>
<circle cx="1985.4" cy="431.5" r="18.8" fill="#000"/>
<text transform="scale(0.86,1)" x="2408 2464.9" y="461.9" font-size="73.5" fill="#000" stroke="#fff" stroke-width="0.5">B0</text>
<line x1="1917.8" y1="501.9" x2="2057.2" y2="501.9" stroke="#111" stroke-width="5.8" stroke-linecap="round"/>
<polygon points="1986.8,480.5 2005.3,512.7 1968.2,512.7" fill="#fff" stroke="#000" stroke-width="5.9" stroke-linejoin="round"/>
<text transform="scale(0.86,1)" x="2408 2465.6 2504.7" y="530.9" font-size="73.5" fill="#000" stroke="#fff" stroke-width="0.5">B20</text>
<line x1="1917.8" y1="571" x2="2057.2" y2="571" stroke="#111" stroke-width="5.8" stroke-linecap="round"/>
<polygon points="1986.8,549.5 2005.3,581.7 1968.2,581.7" fill="#000" stroke="#000" stroke-width="5.9" stroke-linejoin="round"/>
<text transform="scale(0.86,1)" x="2408 2465.1 2504.7" y="600" font-size="73.5" fill="#000" stroke="#fff" stroke-width="0.5">B40</text>
<line x1="1917.8" y1="640" x2="2057.2" y2="640" stroke="#111" stroke-width="5.8" stroke-linecap="round"/>
<rect x="1970" y="622.9" width="31.1" height="31.1" fill="#fff" stroke="#000" stroke-width="5.9" stroke-linejoin="round"/>
<text transform="scale(0.86,1)" x="2408 2464.7 2504.7" y="669" font-size="73.5" fill="#000" stroke="#fff" stroke-width="0.5">B60</text>
<line x1="1917.8" y1="709" x2="2057.2" y2="709" stroke="#111" stroke-width="5.8" stroke-linecap="round"/>
<polygon points="1986.8,730.5 2005.3,698.3 1968.2,698.3" fill="#000" stroke="#000" stroke-width="5.9" stroke-linejoin="round"/>
<text transform="scale(0.86,1)" x="2408 2465.2 2504.7" y="738" font-size="73.5" fill="#000" stroke="#fff" stroke-width="0.5">B80</text>
<line x1="1917.8" y1="778" x2="2057.2" y2="778" stroke="#111" stroke-width="5.8" stroke-linecap="round"/>
<polygon points="1986.8,799.5 2005.3,767.3 1968.2,767.3" fill="#fff" stroke="#000" stroke-width="5.9" stroke-linejoin="round"/>
<text transform="scale(0.86,1)" x="2408 2462.9 2504.7 2542.1" y="807" font-size="73.5" fill="#000" stroke="#fff" stroke-width="0.5">B100</text>
<rect x="1695.4" y="890.1" width="760.7" height="534.5" fill="#000"/>
<rect x="1681.3" y="876" width="760.7" height="534.5" fill="#000"/>
<rect x="1688.2" y="882.3" width="746.9" height="521.9" fill="#fff"/>
<text transform="scale(0.86,1)" x="1983 2056.4 2097.9 2161.8 2201.4 2225.8 2239.8 2275.3 2319.4 2339.8 2353.3 2387.4 2410.2 2470.3 2515.8 2529.2 2575.1 2594.2 2606.3 2647.3" y="954.1" font-size="73.5" fill="#000" stroke="#fff" stroke-width="0.5">Numerical simulation</text>
<line x1="1711.8" y1="993" x2="1851.1" y2="993" stroke="#f00" stroke-width="5.8" stroke-linecap="round"/>
<text transform="scale(0.86,1)" x="2169.2 2225.2" y="1023.2" font-size="73.5" fill="#000" stroke="#fff" stroke-width="0.5">B0</text>
<text transform="scale(0.86,1)" x="2365.4" y="1018.6" font-size="67.6" fill="#000" stroke="#fff" stroke-width="0.5">(</text>
<text transform="scale(0.86,1)" x="2381.4" y="1023.2" font-size="73.5" fill="#000" stroke="#fff" stroke-width="0.5">R</text>
<text transform="scale(0.8,1)" x="2639.3 2656.4 2687 2698.3 2727.1" y="1036.3" font-size="50" fill="#000" stroke="#fff" stroke-width="0.5">inter</text>
<text transform="scale(0.86,1)" x="2550.3 2599.1 2645.4 2655.8 2694.6" y="1023.2" font-size="73.5" fill="#000" stroke="#fff" stroke-width="0.5">=0.66</text>
<text transform="scale(0.86,1)" x="2743.8" y="1018.6" font-size="67.6" fill="#000" stroke="#fff" stroke-width="0.5">)</text>
<line x1="1711.8" y1="1061.8" x2="1851.1" y2="1061.8" stroke="#f00" stroke-width="5.8" stroke-linecap="round" stroke-dasharray="21.5 20.5" stroke-dashoffset="8.1"/>
<text transform="scale(0.86,1)" x="2169.2 2225.6 2264.1" y="1092" font-size="73.5" fill="#000" stroke="#fff" stroke-width="0.5">B20</text>
<text transform="scale(0.86,1)" x="2365.4" y="1087.4" font-size="67.6" fill="#000" stroke="#fff" stroke-width="0.5">(</text>
<text transform="scale(0.86,1)" x="2381.4" y="1092" font-size="73.5" fill="#000" stroke="#fff" stroke-width="0.5">R</text>
<text transform="scale(0.8,1)" x="2639.3 2656.4 2687 2698.3 2727.1" y="1105.1" font-size="50" fill="#000" stroke="#fff" stroke-width="0.5">inter</text>
<text transform="scale(0.86,1)" x="2550.3 2599.1 2645.4 2655.6 2695.4" y="1092" font-size="73.5" fill="#000" stroke="#fff" stroke-width="0.5">=0.59</text>
<text transform="scale(0.86,1)" x="2743.8" y="1087.4" font-size="67.6" fill="#000" stroke="#fff" stroke-width="0.5">)</text>
<line x1="1742.4" y1="1130.6" x2="1850.6" y2="1130.6" stroke="#f00" stroke-width="10.6" stroke-linecap="round" stroke-dasharray="10 39.1"/>
<text transform="scale(0.86,1)" x="2169.2 2225 2264.1" y="1160.8" font-size="73.5" fill="#000" stroke="#fff" stroke-width="0.5">B40</text>
<text transform="scale(0.86,1)" x="2365.4" y="1156.2" font-size="67.6" fill="#000" stroke="#fff" stroke-width="0.5">(</text>
<text transform="scale(0.86,1)" x="2381.4" y="1160.8" font-size="73.5" fill="#000" stroke="#fff" stroke-width="0.5">R</text>
<text transform="scale(0.8,1)" x="2639.3 2656.4 2687 2698.3 2727.1" y="1173.9" font-size="50" fill="#000" stroke="#fff" stroke-width="0.5">inter</text>
<text transform="scale(0.86,1)" x="2550.3 2599.1 2645.4 2655.6 2695" y="1160.8" font-size="73.5" fill="#000" stroke="#fff" stroke-width="0.5">=0.54</text>
<text transform="scale(0.86,1)" x="2743.8" y="1156.2" font-size="67.6" fill="#000" stroke="#fff" stroke-width="0.5">)</text>
<line x1="1712.4" y1="1199.4" x2="1851.1" y2="1199.4" stroke="#f00" stroke-width="10.6" stroke-linecap="round" stroke-dasharray="11.2 6 25.7 6"/>
<text transform="scale(0.86,1)" x="2169.2 2224.7 2264.1" y="1229.6" font-size="73.5" fill="#000" stroke="#fff" stroke-width="0.5">B60</text>
<text transform="scale(0.86,1)" x="2365.4" y="1225" font-size="67.6" fill="#000" stroke="#fff" stroke-width="0.5">(</text>
<text transform="scale(0.86,1)" x="2381.4" y="1229.6" font-size="73.5" fill="#000" stroke="#fff" stroke-width="0.5">R</text>
<text transform="scale(0.8,1)" x="2639.3 2656.4 2687 2698.3 2727.1" y="1242.7" font-size="50" fill="#000" stroke="#fff" stroke-width="0.5">inter</text>
<text transform="scale(0.86,1)" x="2550.3 2599.1 2645.4 2656.1 2695.1" y="1229.6" font-size="73.5" fill="#000" stroke="#fff" stroke-width="0.5">=0.48</text>
<text transform="scale(0.86,1)" x="2743.8" y="1225" font-size="67.6" fill="#000" stroke="#fff" stroke-width="0.5">)</text>
<line x1="1711.8" y1="1268.2" x2="1851.1" y2="1268.2" stroke="#f00" stroke-width="5.8" stroke-linecap="round"/>
<path d="M1763.8 1250.8L1799 1285.6M1763.8 1285.6L1799 1250.8" stroke="#f00" stroke-width="5" stroke-linecap="round" fill="none"/>
<text transform="scale(0.86,1)" x="2169.2 2225.2 2264.1" y="1298.4" font-size="73.5" fill="#000" stroke="#fff" stroke-width="0.5">B80</text>
<text transform="scale(0.86,1)" x="2365.4" y="1293.8" font-size="67.6" fill="#000" stroke="#fff" stroke-width="0.5">(</text>
<text transform="scale(0.86,1)" x="2381.4" y="1298.4" font-size="73.5" fill="#000" stroke="#fff" stroke-width="0.5">R</text>
<text transform="scale(0.8,1)" x="2639.3 2656.4 2687 2698.3 2727.1" y="1311.5" font-size="50" fill="#000" stroke="#fff" stroke-width="0.5">inter</text>
<text transform="scale(0.86,1)" x="2550.3 2599.1 2645.4 2656.1 2694.4" y="1298.4" font-size="73.5" fill="#000" stroke="#fff" stroke-width="0.5">=0.45</text>
<text transform="scale(0.86,1)" x="2743.8" y="1293.8" font-size="67.6" fill="#000" stroke="#fff" stroke-width="0.5">)</text>
<line x1="1711.8" y1="1337" x2="1851.1" y2="1337" stroke="#f00" stroke-width="5.8" stroke-linecap="round" stroke-dasharray="21.5 20.5" stroke-dashoffset="8.1"/>
<path d="M1763.4 1337L1799.4 1337M1781.4 1319L1781.4 1355" stroke="#f00" stroke-width="5" stroke-linecap="round" fill="none"/>
<text transform="scale(0.86,1)" x="2169.2 2222.8 2264.1 2300.9" y="1367.2" font-size="73.5" fill="#000" stroke="#fff" stroke-width="0.5">B100</text>
<text transform="scale(0.86,1)" x="2365.4" y="1362.6" font-size="67.6" fill="#000" stroke="#fff" stroke-width="0.5">(</text>
<text transform="scale(0.86,1)" x="2381.4" y="1367.2" font-size="73.5" fill="#000" stroke="#fff" stroke-width="0.5">R</text>
<text transform="scale(0.8,1)" x="2639.3 2656.4 2687 2698.3 2727.1" y="1380.3" font-size="50" fill="#000" stroke="#fff" stroke-width="0.5">inter</text>
<text transform="scale(0.86,1)" x="2550.3 2599.1 2645.4 2656.1 2695.5" y="1367.2" font-size="73.5" fill="#000" stroke="#fff" stroke-width="0.5">=0.42</text>
<text transform="scale(0.86,1)" x="2743.8" y="1362.6" font-size="67.6" fill="#000" stroke="#fff" stroke-width="0.5">)</text>
</g>
<g id="titles">
<text transform="scale(0.88,1)" x="888.1 964.7 1028.1 1062.1 1097 1123.8 1176.5 1269.2 1318.7 1395 1427.8 1462.6 1494.4 1557.9 1591.6 1614.3 1691.5" y="1682.2" font-size="118" fill="#000" stroke="#fff" stroke-width="1.5">Settlement ratio,</text>
<text transform="translate(0,1682.2) skewX(-12) scale(0.86,1)" x="1782.7 1860 1873.8" y="0" font-size="118" font-style="italic" fill="#000" stroke="#fff" stroke-width="1.5">S/B</text>
<text transform="scale(0.88,1)" x="1950" y="1674.9" font-size="108.6" fill="#000" stroke="#fff" stroke-width="1.4">(</text>
<text transform="scale(0.64,1)" x="2720.1" y="1682.2" font-size="118" fill="#000" stroke="#fff" stroke-width="1">%</text>
<text transform="scale(0.88,1)" x="2098.9" y="1674.9" font-size="108.6" fill="#000" stroke="#fff" stroke-width="1.4">)</text>
<g transform="translate(101.5,0) rotate(-90)">
<text transform="scale(0.88,1)" x="-1420.5 -1323.6 -1271.1 -1207.9 -1172 -1147.6 -1082.7 -1024.7 -980.3 -928.2 -894.8 -860.3 -800.9 -757.5 -696.4" y="0" font-size="116" fill="#000" stroke="#fff" stroke-width="1.5">Bearing stress,</text>
<text transform="translate(0,0) skewX(-7) scale(0.92,1)" x="-621.6" y="0" font-size="116" font-style="italic" fill="#000" stroke="#fff" stroke-width="1.5">q</text>
<text transform="scale(0.88,1)" x="-544.7" y="-7.2" font-size="106.7" fill="#000" stroke="#fff" stroke-width="1.4">(</text>
<text transform="scale(0.88,1)" x="-519.9 -458.8 -379.7" y="0" font-size="116" fill="#000" stroke="#fff" stroke-width="1.5">kPa</text>
<text transform="scale(0.88,1)" x="-320.3" y="-7.2" font-size="106.7" fill="#000" stroke="#fff" stroke-width="1.4">)</text>
</g>
</g>
</svg>
</body>
</html>
